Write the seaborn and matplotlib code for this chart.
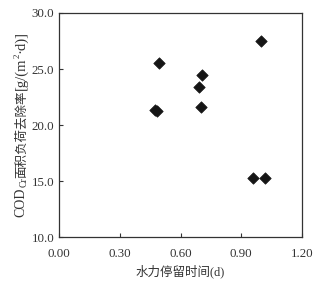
import matplotlib
matplotlib.use("Agg")
import matplotlib.pyplot as plt
import seaborn as sns
import pandas as pd

hrt = [0.494, 0.472, 0.486, 0.691, 0.706, 0.700, 0.998, 0.958, 1.019]
removal = [25.5, 21.35, 21.25, 23.4, 24.45, 21.65, 27.5, 15.25, 15.25]
x_ticks = [0.0, 0.3, 0.6, 0.9, 1.2]
y_ticks = [10.0, 15.0, 20.0, 25.0, 30.0]

sns.set_style("ticks")
plt.rcParams['font.family'] = ['Liberation Serif', 'Noto Sans CJK SC', 'DejaVu Sans']
plt.rcParams['axes.unicode_minus'] = False

TXT = "#333333"
df = pd.DataFrame({"hrt": hrt, "removal": removal})

W, H = 322, 282
fig = plt.figure(figsize=(W / 100, H / 100), dpi=100)
ax = fig.add_axes([59 / W, 1 - 237 / H, 243 / W, 224 / H])
sns.scatterplot(data=df, x="hrt", y="removal", ax=ax, marker="D", s=34,
                color="#151515", edgecolor="#151515", linewidth=0.5)

ax.set_xlim(0, 1.2)
ax.set_ylim(10, 30)
ax.set_xticks(x_ticks)
ax.set_yticks(y_ticks)
ax.set_xticklabels([f"{v:.2f}" for v in x_ticks], fontsize=9.3, color=TXT)
ax.set_yticklabels([f"{v:.1f}" for v in y_ticks], fontsize=9.3, color=TXT)
ax.tick_params(direction="in", length=3, width=0.8, color="#333333")
ax.tick_params(axis="x", pad=8)
ax.tick_params(axis="y", pad=3.5)
for sp in ax.spines.values():
    sp.set_visible(True)
    sp.set_linewidth(0.9)
    sp.set_color("#333333")

ax.set_xlabel("水力停留时间(d)", fontsize=9, color=TXT, labelpad=3)
ax.set_ylabel("")

# y-axis label built from pieces (subscript / superscript)
pieces = [
    ("COD", 10, 0, 'Liberation Serif'),
    ("Cr", 7, 2.5, 'Liberation Serif'),
    ("面积负荷去除率", 9, 0.5, 'Noto Sans CJK SC'),
    ("[g/(m", 10.5, 0, 'Liberation Serif'),
    ("2", 6.5, -5, 'Liberation Serif'),
    ("·d)]", 10.5, 0, 'Liberation Serif'),
]
renderer = fig.canvas.get_renderer()
texts, lengths = [], []
for s, size, off, fam in pieces:
    t = fig.text(0, 0, s, fontsize=size, rotation=90, rotation_mode='anchor',
                 ha='left', va='baseline', family=fam, color=TXT)
    bb = t.get_window_extent(renderer)
    texts.append((t, off))
    lengths.append(bb.height)
x_base = 24.5
y_center = H - 124
y = y_center - sum(lengths) / 2
for (t, off), L in zip(texts, lengths):
    t.set_position(((x_base + off) / W, y / H))
    y += L

fig.savefig("out.png", dpi=100)
